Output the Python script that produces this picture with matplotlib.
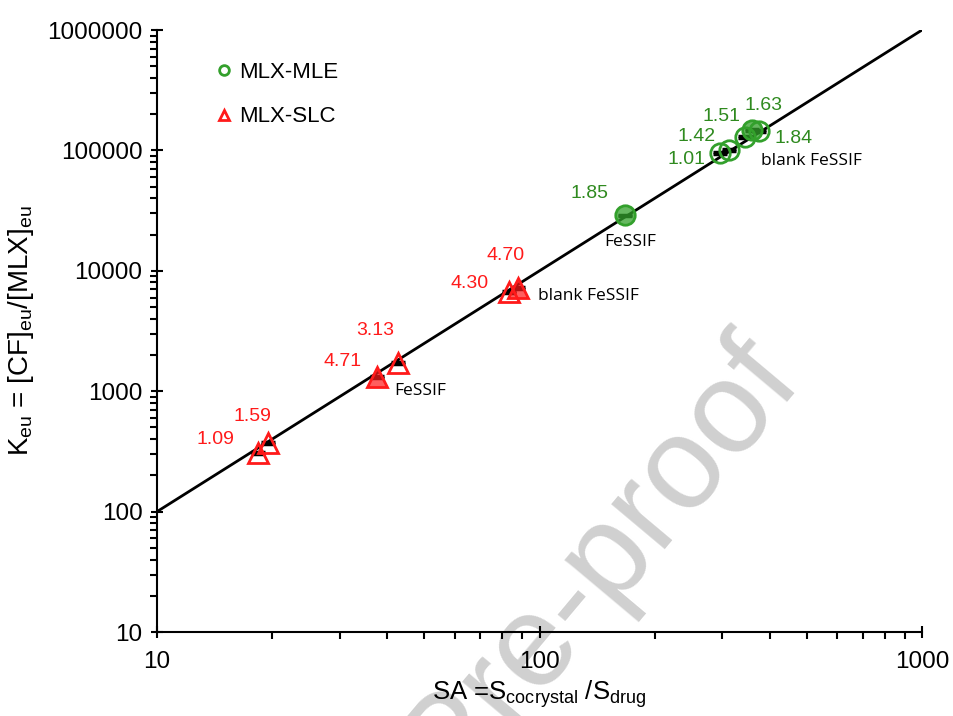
import numpy as np
import matplotlib
matplotlib.use("Agg")
import matplotlib.pyplot as plt
from matplotlib.ticker import FuncFormatter, LogLocator
from matplotlib.lines import Line2D

plt.rcParams['font.family'] = ['Liberation Sans', 'DejaVu Sans']
plt.rcParams['mathtext.default'] = 'regular'

# MLX-MLE (green circles)
mle_sa = [297, 313, 344, 359, 375, 167]
mle_k = [95000, 100700, 129000, 147700, 145000, 29000]
mle_lab = ['1.01', '1.42', '1.51', '1.63', '1.84', '1.85']
mle_filled = [False, False, False, True, False, True]

# MLX-SLC (red triangles)
slc_sa = [18.4, 19.5, 37.6, 42.7, 83.2, 87.9]
slc_k = [307, 371, 1313, 1714, 6670, 7200]
slc_lab = ['1.09', '1.59', '4.71', '3.13', '4.30', '4.70']
slc_filled = [False, False, True, False, False, True]

# model line K_eu = SA^2
line_sa = [10, 1000]
line_k = [100, 1000000]

green = '#33a02c'
gtext = '#2f8a1f'
red = '#ff1a1a'

fig = plt.figure(figsize=(9.54, 7.16), dpi=100)
ax = fig.add_axes([0.1646, 0.1173, 0.8019, 0.8408])
ax.patch.set_alpha(0)

# watermark
fig.text(0.816, 0.496, 'Journal Pre-proof', fontsize=94, color='#d0d0d0',
         rotation=50, rotation_mode='anchor', ha='right', va='center', zorder=-5)

ax.plot(line_sa, line_k, color='black', lw=2, zorder=2)

for sa, k, f in zip(mle_sa, mle_k, mle_filled):
    ax.errorbar([sa], [k], yerr=[[k * 0.012], [k * 0.012]], fmt='none', ecolor='black',
                elinewidth=2, capsize=5, capthick=2.5, zorder=3)
    ax.plot([sa], [k], 'o', ms=14, mec=green, mew=2,
            mfc=(0.2, 0.63, 0.17, 0.75) if f else 'none', zorder=4)

for sa, k, f in zip(slc_sa, slc_k, slc_filled):
    ax.errorbar([sa], [k], yerr=[[k * 0.012], [k * 0.012]], fmt='none', ecolor='black',
                elinewidth=2, capsize=5, capthick=2.5, zorder=3)
    ax.plot([sa], [k], '^', ms=15, mec=red, mew=2,
            mfc=(1, 0.1, 0.1, 0.7) if f else 'none', zorder=4)

# value labels (offsets in pixels)
mle_off = [(-34, -6), (-33, 14), (-23, 21), (12, 25), (34, -8), (-35, 22)]
slc_off = [(-43, 13), (-16, 27), (-34, 15), (-23, 33), (-39, 8), (-13, 32)]
for sa, k, t, o in zip(mle_sa, mle_k, mle_lab, mle_off):
    ax.annotate(t, (sa, k), xytext=o, textcoords='offset pixels', ha='center',
                va='center', color=gtext, fontsize=14)
for sa, k, t, o in zip(slc_sa, slc_k, slc_lab, slc_off):
    ax.annotate(t, (sa, k), xytext=o, textcoords='offset pixels', ha='center',
                va='center', color=red, fontsize=14)

# medium labels
ax.annotate('blank FeSSIF', (mle_sa[4], mle_k[4]), xytext=(52, -30), textcoords='offset pixels',
            ha='center', va='center', fontsize=12.5, family=['Open Sans', 'DejaVu Sans'])
ax.annotate('FeSSIF', (mle_sa[5], mle_k[5]), xytext=(5, -27), textcoords='offset pixels',
            ha='center', va='center', fontsize=12.5, family=['Open Sans', 'DejaVu Sans'])
ax.annotate('blank FeSSIF', (slc_sa[5], slc_k[5]), xytext=(70, -8), textcoords='offset pixels',
            ha='center', va='center', fontsize=12.5, family=['Open Sans', 'DejaVu Sans'])
ax.annotate('FeSSIF', (slc_sa[2], slc_k[2]), xytext=(43, -14), textcoords='offset pixels',
            ha='center', va='center', fontsize=12.5, family=['Open Sans', 'DejaVu Sans'])

ax.set_xscale('log')
ax.set_yscale('log')
ax.set_xlim(10, 1000)
ax.set_ylim(10, 1000000)
fmt = FuncFormatter(lambda v, p: '%d' % round(v))
ax.xaxis.set_major_formatter(fmt)
ax.yaxis.set_major_formatter(fmt)
ax.xaxis.set_minor_locator(LogLocator(base=10, subs=np.arange(2, 10)))
ax.yaxis.set_minor_locator(LogLocator(base=10, subs=np.arange(2, 10)))
ax.xaxis.set_minor_formatter(plt.NullFormatter())
ax.yaxis.set_minor_formatter(plt.NullFormatter())
ax.tick_params(which='major', direction='inout', length=9, width=1.5, labelsize=17.5, pad=6)
ax.tick_params(axis='x', which='major', pad=9)
ax.tick_params(which='minor', direction='out', length=5, width=1.5)
ax.spines['top'].set_visible(False)
ax.spines['right'].set_visible(False)
ax.spines['left'].set_linewidth(1.5)
ax.spines['bottom'].set_linewidth(1.5)

ax.set_xlabel('SA =S$_{cocrystal}$ /S$_{drug}$', fontsize=18.5, labelpad=4)
ax.set_ylabel('K$_{eu}$ = [CF]$_{eu}$/[MLX]$_{eu}$', fontsize=20, labelpad=8)

handles = [Line2D([], [], marker='o', ls='none', ms=7, mec=green, mfc='none', mew=2),
           Line2D([], [], marker='^', ls='none', ms=7, mec=red, mfc='none', mew=2)]
ax.legend(handles, ['MLX-MLE', 'MLX-SLC'], loc='upper left', bbox_to_anchor=(0.044, 0.98),
          frameon=False, fontsize=16, labelspacing=1.05, handletextpad=0.1, handlelength=1.2)

fig.savefig('out.png', dpi=100)
